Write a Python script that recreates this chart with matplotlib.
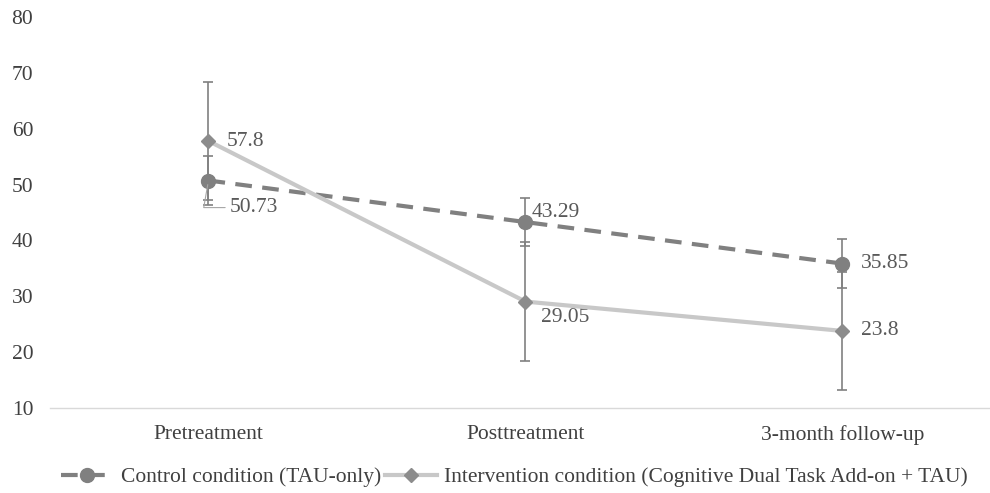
import numpy as np
import matplotlib
matplotlib.use("Agg")
import matplotlib.pyplot as plt

FS = 15.5
matplotlib.rcParams.update({
    "font.family": ["Liberation Serif", "DejaVu Serif"],
    "font.size": FS,
})

# data
categories = ["Pretreatment", "Posttreatment", "3-month follow-up"]
control_mean = [50.73, 43.29, 35.85]
control_err = [4.3, 4.3, 4.4]
interv_mean = [57.8, 29.05, 23.8]
interv_err = [10.6, 10.7, 10.6]
control_label = "Control condition (TAU-only)"
interv_label = "Intervention condition (Cognitive Dual Task Add-on + TAU)"
y_ticks = [10, 20, 30, 40, 50, 60, 70, 80]

# label offsets in points (dx, dy)
control_offsets = [(15, -19.5), (4.5, 7), (13.5, 0)]
interv_offsets = [(13, 0), (11.5, -11.5), (13.5, 0)]

fig = plt.figure(figsize=(9.9, 4.93), dpi=100)
ax = fig.add_axes([0.0505, 0.1724, 0.9606, 0.7931])
x = np.arange(len(categories))

ERR_C = "#808080"
ax.errorbar(x, control_mean, yerr=control_err, fmt="none", ecolor=ERR_C,
            elinewidth=1.2, capsize=3.6, capthick=1.2, zorder=2)
ax.errorbar(x, interv_mean, yerr=interv_err, fmt="none", ecolor=ERR_C,
            elinewidth=1.2, capsize=3.6, capthick=1.2, zorder=2)

ax.plot(x, control_mean, color="#808080", lw=3, linestyle=(0, (4, 2.5)),
        marker="o", markersize=10, markerfacecolor="#808080",
        markeredgecolor="#808080", label=control_label, zorder=3)
ax.plot(x, interv_mean, color="#c8c8c8", lw=3, linestyle="-",
        marker="D", markersize=7, markerfacecolor="#8c8c8c",
        markeredgecolor="#8c8c8c", label=interv_label, zorder=4)

LBL_C = "#595959"
for i, (v, off) in enumerate(zip(control_mean, control_offsets)):
    if i == 0:
        ax.annotate(f"{v:g}", xy=(x[i], v), xytext=off, textcoords="offset points",
                    ha="left", va="center", color=LBL_C, fontsize=FS,
                    arrowprops=dict(arrowstyle="-", color="#a6a6a6", lw=0.8,
                                    connectionstyle="angle,angleA=0,angleB=80",
                                    shrinkA=1, shrinkB=3))
    else:
        ax.annotate(f"{v:g}", xy=(x[i], v), xytext=off, textcoords="offset points",
                    ha="left", va="center", color=LBL_C, fontsize=FS)
for i, (v, off) in enumerate(zip(interv_mean, interv_offsets)):
    ax.annotate(f"{v:g}", xy=(x[i], v), xytext=off, textcoords="offset points",
                ha="left", va="center", color=LBL_C, fontsize=FS)

ax.set_xlim(-0.5, len(categories) - 0.5)
ax.set_ylim(10, 80)
ax.set_yticks(y_ticks)
ax.set_xticks(x)
ax.set_xticklabels(categories)
ax.tick_params(axis="both", length=0, colors="#404040", labelsize=FS)
ax.tick_params(axis="x", pad=12)
ax.tick_params(axis="y", pad=12)
for s in ["top", "right", "left"]:
    ax.spines[s].set_visible(False)
ax.spines["bottom"].set_color("#d9d9d9")
ax.spines["bottom"].set_linewidth(1.0)

ax.legend(loc="center", bbox_to_anchor=(0.52, 0.032), ncol=2, frameon=False,
          handlelength=2.4, handletextpad=0.35, columnspacing=0.2,
          fontsize=FS, labelcolor="#404040", borderaxespad=0,
          bbox_transform=fig.transFigure)

fig.savefig("out.png", dpi=100, facecolor="white")
